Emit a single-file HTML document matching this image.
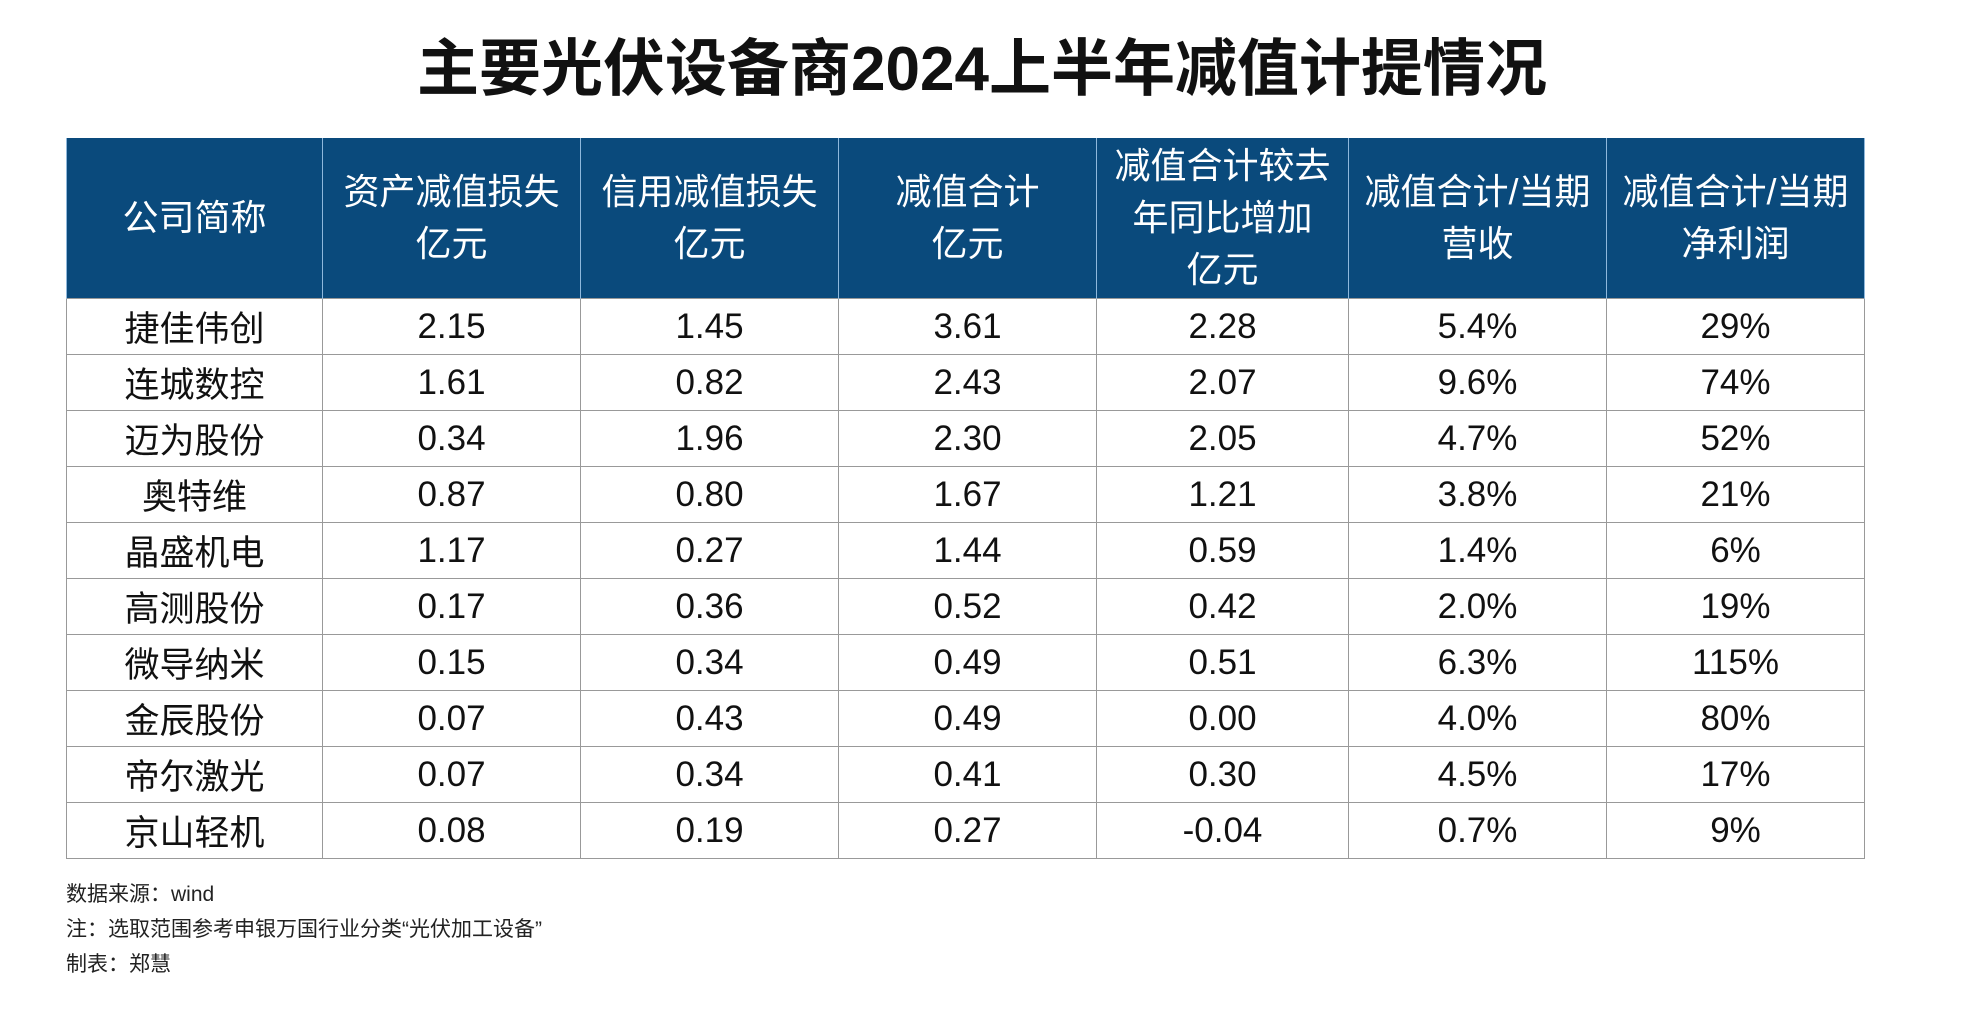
<!DOCTYPE html>
<html><head><meta charset="utf-8">
<style>
body{margin:0;width:1964px;height:1026px;background:#fff;font-family:"Liberation Sans","Noto Sans CJK SC",sans-serif;position:relative;overflow:hidden}
h1{position:absolute;top:30px;left:0;width:1964px;text-align:center;margin:0;font-size:62px;font-weight:bold;line-height:80px;color:#111}
table{position:absolute;left:66px;top:138px;border-collapse:collapse;table-layout:fixed}
th{background:#0a4a7c;color:#fff;font-weight:normal;font-size:36px;line-height:52px;height:160px;padding:0;border-left:1px solid #8fb8dc;border-right:1px solid #8fb8dc;text-align:center;vertical-align:middle}
td{height:55px;padding:0;font-size:35px;text-align:center;border:1px solid #999;color:#111}
.note{position:absolute;left:66px;font-size:21px;color:#222}
</style></head><body>
<h1>主要光伏设备商2024上半年减值计提情况</h1>
<table>
<colgroup><col style="width:256px"><col style="width:258px"><col style="width:258px"><col style="width:258px"><col style="width:252px"><col style="width:258px"><col style="width:258px"></colgroup>
<thead><tr>
<th>公司简称</th><th>资产减值损失<br>亿元</th><th>信用减值损失<br>亿元</th><th>减值合计<br>亿元</th><th>减值合计较去<br>年同比增加<br>亿元</th><th>减值合计/当期<br>营收</th><th>减值合计/当期<br>净利润</th>
</tr></thead>
<tbody id="tb"></tbody>
</table>
<div class="note" style="top:878px">数据来源：wind</div>
<div class="note" style="top:913px">注：选取范围参考申银万国行业分类“光伏加工设备”</div>
<div class="note" style="top:948px">制表：郑慧</div>
<script>
const companies=["捷佳伟创","连城数控","迈为股份","奥特维","晶盛机电","高测股份","微导纳米","金辰股份","帝尔激光","京山轻机"];
const assetLoss=["2.15","1.61","0.34","0.87","1.17","0.17","0.15","0.07","0.07","0.08"];
const creditLoss=["1.45","0.82","1.96","0.80","0.27","0.36","0.34","0.43","0.34","0.19"];
const totalLoss=["3.61","2.43","2.30","1.67","1.44","0.52","0.49","0.49","0.41","0.27"];
const yoyIncrease=["2.28","2.07","2.05","1.21","0.59","0.42","0.51","0.00","0.30","-0.04"];
const toRevenue=["5.4%","9.6%","4.7%","3.8%","1.4%","2.0%","6.3%","4.0%","4.5%","0.7%"];
const toProfit=["29%","74%","52%","21%","6%","19%","115%","80%","17%","9%"];
const tb=document.getElementById('tb');
companies.forEach((c,i)=>{
  const tr=document.createElement('tr');
  
  
  [c,assetLoss[i],creditLoss[i],totalLoss[i],yoyIncrease[i],toRevenue[i],toProfit[i]].forEach(v=>{
    const td=document.createElement('td');
    
    
    td.textContent=v;tr.appendChild(td);
  });
  tb.appendChild(tr);
});
</script>
</body></html>
